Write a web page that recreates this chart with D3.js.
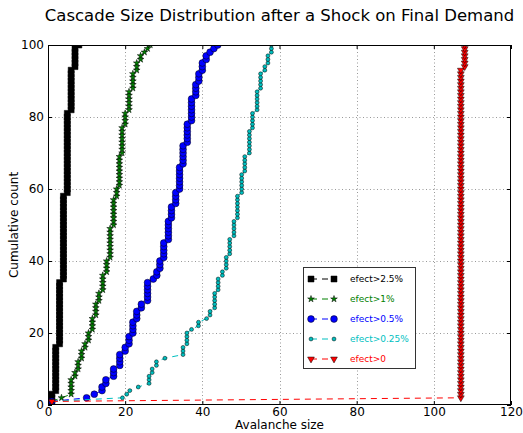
<!DOCTYPE html>
<html>
<head>
<meta charset="utf-8">
<script src="https://cdn.jsdelivr.net/npm/d3@7"></script>
<style>
  html, body { margin: 0; padding: 0; background: #fff; }
  svg { display: block; font-family: "DejaVu Sans", sans-serif; }
</style>
</head>
<body>
<svg id="chart" width="523" height="433"></svg>
<script>
// Sorted avalanche sizes per threshold; the cumulative count of the k-th entry is k.
const sizesAbove2_5 = [
  1,1,1,
  2,2,2,2,2,2,2,2,2,2,2,2,2,
  3,3,3,3,3,3,3,3,3,3,3,3,3,3,3,3,3,3,
  4,4,4,4,4,4,4,4,4,4,4,4,4,4,4,4,4,4,4,4,4,4,4,4,
  5,5,5,5,5,5,5,5,5,5,5,5,5,5,5,5,5,5,5,5,5,5,5,
  6,6,6,6,6,6,6,6,6,6,6,6,
  7,7,7,7,7,7,
  8
];
const sizesAbove1 = [
  1, 3.5,
  6,6,6,6,6,
  7,7,
  7.8,7.8,7.8,
  8.7,8.7,8.7,
  9.6,9.6,
  10.5,10.5,10.5,
  11.5,11.5,11.5,11.5,
  12.4,12.4,12.4,12.4,
  13.2,13.2,13.2,
  14.2,14.2,14.2,14.2,14.2,
  15.2,15.2,15.2,15.2,
  16.1,16.1,16.1,16.1,16.1,16.1,16.1,16.1,16.1,
  17,17,17,17,17,17,17,17,
  17.8,17.8,17.8,
  18.5,18.5,18.5,18.5,18.5,18.5,18.5,18.5,18.5,
  19.2,19.2,19.2,19.2,19.2,19.2,19.2,19.2,
  20,20,20,20,
  21,21,21,21,21,21,
  22,22,22,22,22,
  23,23,23,
  24,24,
  25, 25.8, 26.5
];
const sizesAbove0_5 = [
  1, 10, 12,
  14,14,
  15,15,
  17,17,17,
  18.6,18.6,18.6,18.6,
  20,20,
  21,21,21,
  22,22,22,22,
  23,23,23,
  24.2,24.2,
  25.8,25.8,25.8,25.8,25.8,25.8,
  27.3,
  28.2,28.2,
  29,29,29,
  30,30,30,30,30,
  31.2,31.2,31.2,31.2,31.2,31.2,
  32,32,32,32,
  33.1,33.1,33.1,33.1,
  34.1,34.1,34.1,34.1,34.1,34.1,34.1,
  35,35,35,35,35,35,
  36.1,36.1,36.1,36.1,36.1,36.1,
  37.2,37.2,37.2,37.2,37.2,37.2,37.2,
  38.3,38.3,38.3,38.3,
  39.1,39.1,39.1,
  40,40,40,
  41,41,
  42, 43, 44
];
const sizesAbove0_25 = [
  1, 19.3, 20.4, 21.2, 23.4,
  26.2,26.2,26.2,
  27,27,
  28.1,28.1,
  30.3,
  35,35,35,
  36,36,36,36,
  37.2,
  39,39,
  41.1,
  42,42,
  43.2,43.2,43.2,43.2,43.2,
  44.1,44.1,44.1,44.1,
  45.2,45.2,
  46.2,46.2,46.2,46.2,
  47.1,47.1,47.1,47.1,47.1,
  48.2,48.2,48.2,48.2,48.2,
  49.1,49.1,49.1,49.1,49.1,49.1,49.1,
  50.2,50.2,50.2,50.2,50.2,50.2,
  51,51,51,51,51,
  52.2,52.2,52.2,52.2,52.2,52.2,52.2,
  53,53,53,53,53,
  54.2,54.2,54.2,54.2,54.2,54.2,
  55.1,55.1,55.1,55.1,55.1,
  56.2,56.2,
  57,57,57,
  57.9,57.9,57.9
];
const sizesAbove0 = [
  1,
  107,107,107,107,107,107,107,107,107,107,
  107,107,107,107,107,107,107,107,107,107,
  107,107,107,107,107,107,107,107,107,107,
  107,107,107,107,107,107,107,107,107,107,
  107,107,107,107,107,107,107,107,107,107,
  107,107,107,107,107,107,107,107,107,107,
  107,107,107,107,107,107,107,107,107,107,
  107,107,107,107,107,107,107,107,107,107,
  107,107,107,107,107,107,107,107,107,107,
  107,107,
  108,108,108,108,108,108,108
];

const seriesNames = ["efect>2.5%", "efect>1%", "efect>0.5%", "efect>0.25%", "efect>0"];
const xTicks = [0, 20, 40, 60, 80, 100, 120];
const yTicks = [0, 20, 40, 60, 80, 100];

const plot = { left: 48, top: 45, right: 511, bottom: 405 };

const x = d3.scaleLinear().domain([0, 120]).range([plot.left, plot.right]);
const y = d3.scaleLinear().domain([0, 100]).range([plot.bottom, plot.top]);

const styles = [
  { sizes: sizesAbove2_5, color: "#000000", symbol: d3.symbolSquare,   area: 36, rot: 0 },
  { sizes: sizesAbove1,   color: "#008000", symbol: d3.symbolStar,     area: 14, rot: 0 },
  { sizes: sizesAbove0_5, color: "#0000ff", symbol: d3.symbolCircle,   area: 36, rot: 0 },
  { sizes: sizesAbove0_25,color: "#00bfbf", symbol: d3.symbolCircle,   area: 12, rot: 0 },
  { sizes: sizesAbove0,   color: "#ff0000", symbol: d3.symbolTriangle, area: 20, rot: 180 }
];

const svg = d3.select("#chart");

svg.append("defs").append("clipPath").attr("id", "plot-clip")
  .append("rect")
  .attr("x", plot.left).attr("y", plot.top)
  .attr("width", plot.right - plot.left).attr("height", plot.bottom - plot.top);

// dotted grid
const grid = svg.append("g").attr("stroke", "#7f7f7f").attr("stroke-width", 0.8)
  .attr("stroke-dasharray", "1,2.5");
grid.selectAll("line.gx").data(xTicks.slice(1, -1)).join("line")
  .attr("x1", d => Math.round(x(d)) + 0.5).attr("x2", d => Math.round(x(d)) + 0.5)
  .attr("y1", plot.top).attr("y2", plot.bottom);
grid.selectAll("line.gy").data(yTicks.slice(1, -1)).join("line")
  .attr("y1", d => Math.round(y(d)) + 0.5).attr("y2", d => Math.round(y(d)) + 0.5)
  .attr("x1", plot.left).attr("x2", plot.right);

// series: dashed line first, then the markers
const marks = svg.append("g").attr("clip-path", "url(#plot-clip)");
const line = d3.line().x(d => x(d.v)).y(d => y(d.c));

styles.forEach(s => {
  const pts = s.sizes.map((v, k) => ({ v: v, c: k + 1 }));
  const g = marks.append("g");
  g.append("path").datum(pts)
    .attr("d", line)
    .attr("fill", "none")
    .attr("stroke", s.color)
    .attr("stroke-width", 1)
    .attr("stroke-dasharray", "6,5");
  const sym = d3.symbol().type(s.symbol).size(s.area)();
  g.selectAll("path.m").data(pts).join("path")
    .attr("class", "m")
    .attr("d", sym)
    .attr("transform", d => `translate(${x(d.v)},${y(d.c)}) rotate(${s.rot})`)
    .attr("fill", s.color)
    .attr("stroke", "#000")
    .attr("stroke-width", 0.5);
});

// axes with inward ticks on all four sides
const fontSize = 12;
const axB = svg.append("g").attr("transform", `translate(0,${plot.bottom})`)
  .call(d3.axisBottom(x).tickValues(xTicks).tickSize(-4).tickPadding(2).tickFormat(d3.format("d")));
const axL = svg.append("g").attr("transform", `translate(${plot.left},0)`)
  .call(d3.axisLeft(y).tickValues(yTicks).tickSize(-4).tickPadding(4).tickFormat(d3.format("d")));
const axT = svg.append("g").attr("transform", `translate(0,${plot.top})`)
  .call(d3.axisTop(x).tickValues(xTicks).tickSize(-4).tickFormat(""));
const axR = svg.append("g").attr("transform", `translate(${plot.right},0)`)
  .call(d3.axisRight(y).tickValues(yTicks).tickSize(-4).tickFormat(""));
[axB, axL, axT, axR].forEach(a => {
  a.select(".domain").remove();
  a.selectAll("line").attr("stroke", "#000").attr("stroke-width", 1);
  a.selectAll("text").attr("font-family", "DejaVu Sans, sans-serif")
    .attr("font-size", fontSize).attr("fill", "#000");
});

// frame
svg.append("rect")
  .attr("x", plot.left + 0.5).attr("y", plot.top + 0.5)
  .attr("width", plot.right - plot.left - 1).attr("height", plot.bottom - plot.top - 1)
  .attr("fill", "none").attr("stroke", "#000").attr("stroke-width", 1);

// legend
const lg = svg.append("g");
lg.append("rect").attr("x", 303.5).attr("y", 267.5).attr("width", 112).attr("height", 101)
  .attr("fill", "#fff").attr("stroke", "#333").attr("stroke-width", 1);
styles.forEach((s, i) => {
  const cy = 279 + i * 20;
  lg.append("line").attr("x1", 311).attr("x2", 334).attr("y1", cy).attr("y2", cy)
    .attr("stroke", s.color).attr("stroke-width", 1).attr("stroke-dasharray", "6,5");
  const sym = d3.symbol().type(s.symbol).size(s.area)();
  [311, 334].forEach(px => {
    lg.append("path").attr("d", sym)
      .attr("transform", `translate(${px},${cy}) rotate(${s.rot})`)
      .attr("fill", s.color).attr("stroke", "#000").attr("stroke-width", 0.5);
  });
  lg.append("text").attr("x", 350).attr("y", cy + 3.3)
    .attr("font-size", 9).attr("fill", s.color).text(seriesNames[i]);
});

// titles
svg.append("text").attr("x", (plot.left + plot.right) / 2).attr("y", 21)
  .attr("text-anchor", "middle").attr("font-size", 16.5).text("Cascade Size Distribution after a Shock on Final Demand");
svg.append("text").attr("x", (plot.left + plot.right) / 2).attr("y", 429)
  .attr("text-anchor", "middle").attr("font-size", 12).text("Avalanche size");
svg.append("text").attr("transform", `translate(18,${(plot.top + plot.bottom) / 2}) rotate(-90)`)
  .attr("text-anchor", "middle").attr("font-size", 12).text("Cumulative count");
</script>
</body>
</html>
